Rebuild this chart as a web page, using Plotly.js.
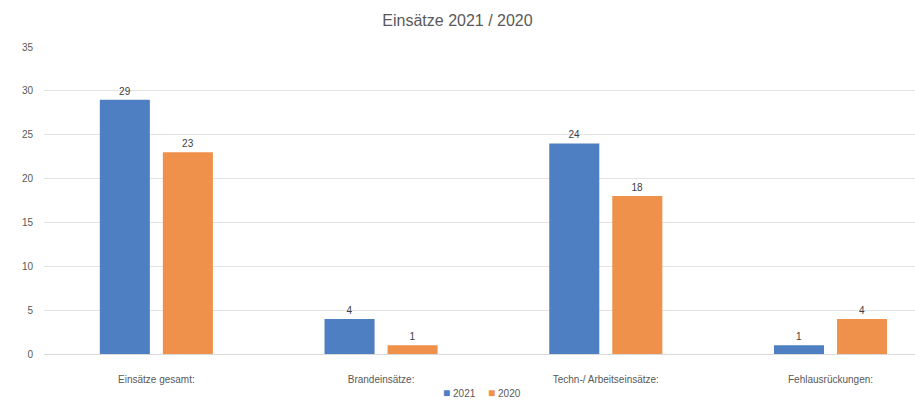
<!DOCTYPE html>
<html>
<head>
<meta charset="utf-8">
<script src="https://cdn.plot.ly/plotly-3.0.1.min.js"></script>
<style>html,body{margin:0;padding:0;background:#fff;}#chart{width:915px;height:401px;}</style>
</head>
<body>
<div id="chart"></div>
<script>
const categories = ["Einsätze gesamt:", "Brandeinsätze:", "Techn-/ Arbeitseinsätze:", "Fehlausrückungen:"];
const seriesNames = ["2021", "2020"];
const values2021 = [29, 4, 24, 1];
const values2020 = [23, 1, 18, 4];
const yTicks = [0, 5, 10, 15, 20, 25, 30, 35];

const colors = ["#4e7fc2", "#ef914a"];
const font = "Liberation Sans, Arial, sans-serif";
const traces = [values2021, values2020].map((vals, i) => ({
  type: "bar", name: seriesNames[i], x: categories, y: vals, marker: {color: colors[i]},
  text: vals.map(String), textposition: "outside", cliponaxis: false,
  textfont: {size: 10, color: "#404040", family: font}
}));

// compact legend drawn as annotations (Excel-style small squares)
const legendX = [0.457, 0.5085];
const annotations = seriesNames.map((n, i) => ({
  xref: "paper", yref: "paper", x: legendX[i], y: -0.128, xanchor: "left", yanchor: "middle",
  showarrow: false, font: {size: 10, color: "#595959", family: font}, borderpad: 0,
  text: '<span style="color:' + colors[i] + ';font-size:12px">■</span> ' + n
}));

const layout = {
  width: 915, height: 401,
  margin: {l: 44, r: 0, t: 47, b: 47, autoexpand: false},
  paper_bgcolor: "#fff", plot_bgcolor: "#fff",
  font: {family: font, color: "#595959", size: 10},
  title: {text: "Einsätze 2021 / 2020", x: 0.5, xanchor: "center", y: 0.95, yanchor: "middle",
          font: {size: 16, color: "#595959", family: font}},
  barmode: "group", bargap: 0.439, bargroupgap: 0.206,
  xaxis: {type: "category", range: [-0.5, 3.376], showgrid: false, zeroline: false, automargin: false,
          showline: true, linecolor: "#d9d9d9", linewidth: 1, ticks: "",
          tickfont: {size: 10, color: "#595959"}, ticklabelstandoff: 16, fixedrange: true},
  yaxis: {range: [0, 35], tickvals: yTicks, showgrid: true, gridcolor: "#e3e3e3", gridwidth: 1,
          zeroline: false, showline: false, ticks: "", automargin: false,
          tickfont: {size: 10, color: "#595959"}, ticklabelstandoff: 10, fixedrange: true},
  showlegend: false,
  annotations: annotations
};
Plotly.newPlot("chart", traces, layout, {staticPlot: true, displayModeBar: false});
</script>
</body>
</html>
